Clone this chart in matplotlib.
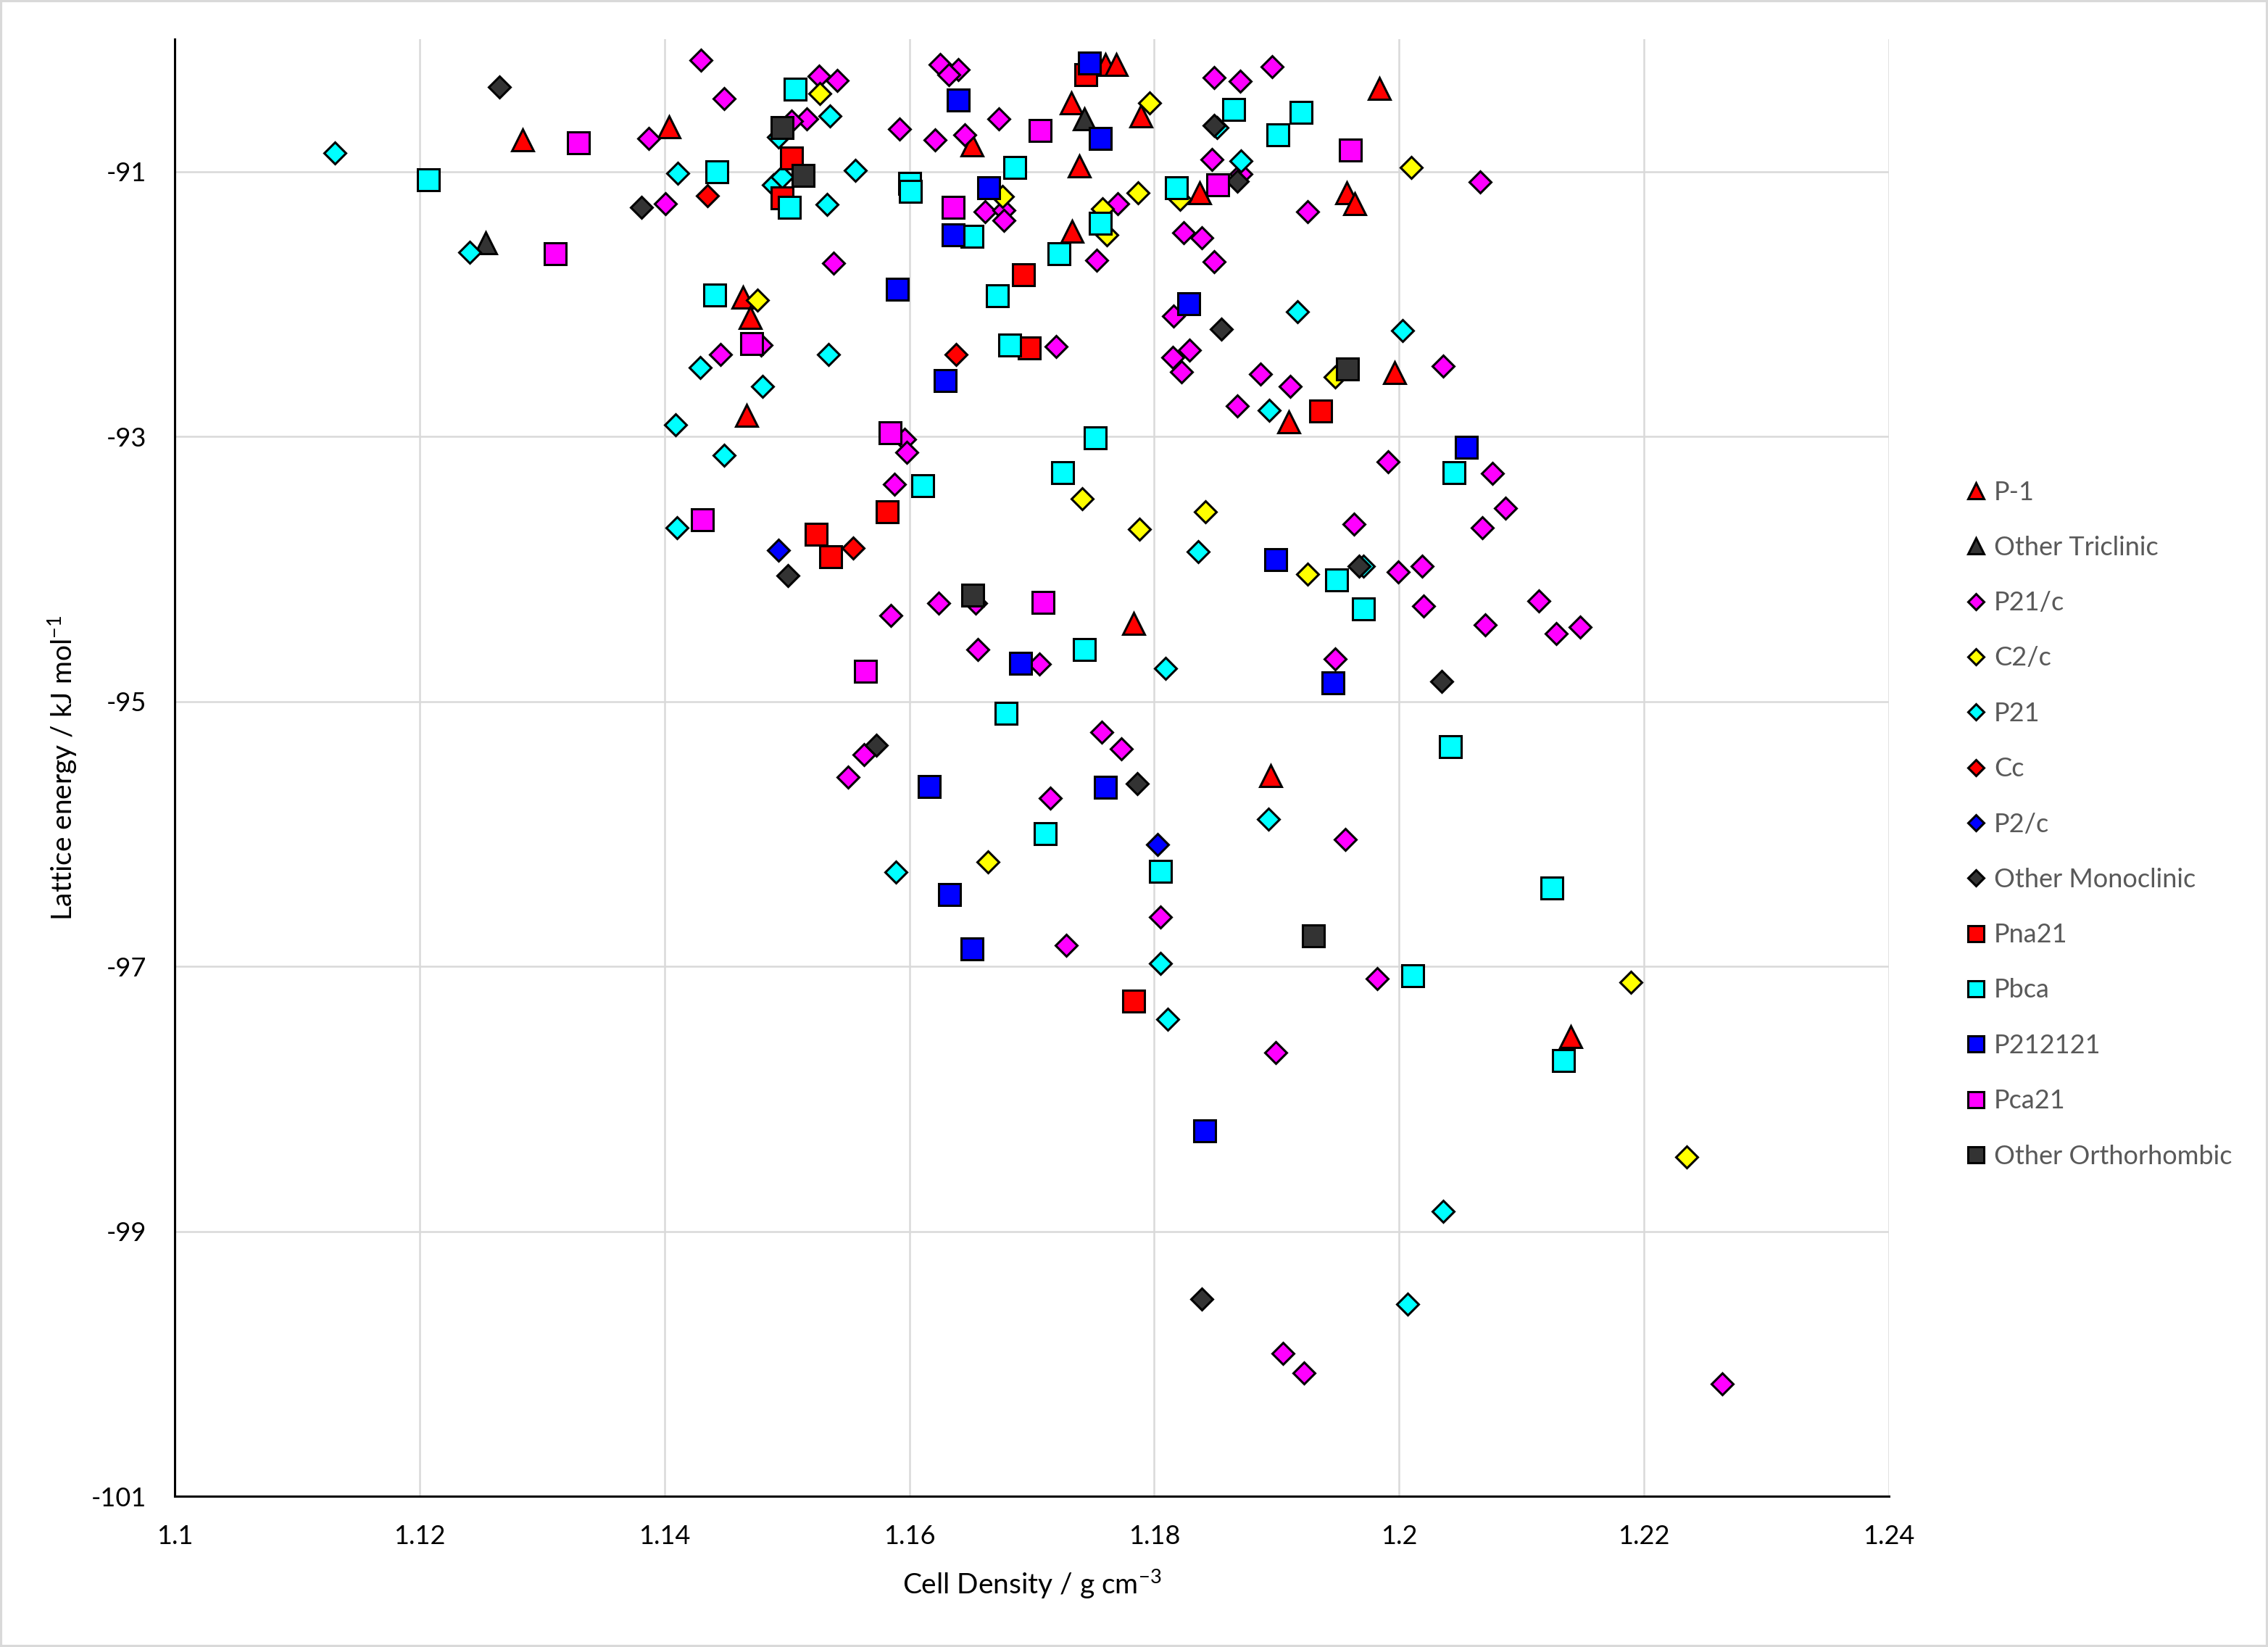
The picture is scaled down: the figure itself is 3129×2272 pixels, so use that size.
import matplotlib
matplotlib.use("Agg")
import matplotlib.pyplot as plt
from matplotlib.patches import Rectangle
from matplotlib.ticker import FuncFormatter

plt.rcParams['font.family'] = ['Lato', 'DejaVu Sans']
plt.rcParams['axes.unicode_minus'] = False
plt.rcParams['mathtext.fontset'] = 'custom'
plt.rcParams['mathtext.rm'] = 'Lato'
plt.rcParams['mathtext.it'] = 'Lato:italic'
plt.rcParams['mathtext.bf'] = 'Lato:bold'

# ---------------- data (cell density g cm-3, lattice energy kJ/mol) ----------------
p1_x = [1.1284, 1.1404, 1.1464, 1.1470, 1.1467, 1.1651, 1.1760, 1.1769, 1.1732, 1.1789,
        1.1739, 1.1733, 1.1837, 1.1910, 1.1984, 1.1957, 1.1964, 1.1996, 1.1783, 1.1895, 1.2140]
p1_y = [-90.76, -90.66, -91.95, -92.10, -92.84, -90.80, -90.19, -90.19, -90.48, -90.58,
        -90.96, -91.45, -91.16, -92.89, -90.37, -91.16, -91.24, -92.52, -94.41, -95.56, -97.53]

otri_x = [1.1254, 1.1743]
otri_y = [-91.54, -90.60]

p21c_x = [1.1430, 1.1449, 1.1387, 1.1401, 1.1446, 1.1526, 1.1541, 1.1516, 1.1504,
          1.1592, 1.1625, 1.1640, 1.1632, 1.1621, 1.1645, 1.1673,
          1.1662, 1.1677, 1.1677, 1.1770, 1.1753, 1.1538, 1.1479, 1.1720,
          1.1596, 1.1598, 1.1588,
          1.1849, 1.1870, 1.1896, 1.1847, 1.1871, 1.1925,
          1.1824, 1.1839, 1.1849, 1.1816, 1.1815, 1.1829, 1.1822,
          1.1887, 1.1911, 1.1868,
          1.2066, 1.2036, 1.1991, 1.2076, 1.2087, 1.1963, 1.2068,
          1.1999, 1.2019, 1.2020, 1.2114, 1.2070, 1.2128, 1.2148, 1.1948,
          1.1956, 1.1982,
          1.1585, 1.1624, 1.1654, 1.1656, 1.1706, 1.1757, 1.1773,
          1.1563, 1.1550, 1.1715, 1.1805, 1.1728,
          1.1899, 1.1905, 1.1922, 1.2264]
p21c_y = [-90.16, -90.45, -90.75, -91.24, -92.38, -90.28, -90.31, -90.60, -90.62,
          -90.68, -90.19, -90.23, -90.27, -90.76, -90.72, -90.60,
          -91.30, -91.29, -91.37, -91.24, -91.67, -91.69, -92.31, -92.32,
          -93.02, -93.12, -93.36,
          -90.29, -90.32, -90.21, -90.91, -91.02, -91.30,
          -91.46, -91.50, -91.68, -92.09, -92.40, -92.35, -92.51,
          -92.53, -92.62, -92.77,
          -91.08, -92.47, -93.19, -93.28, -93.54, -93.66, -93.69,
          -94.02, -93.98, -94.28, -94.24, -94.42, -94.49, -94.44, -94.68,
          -96.04, -97.09,
          -94.35, -94.26, -94.26, -94.61, -94.72, -95.23, -95.36,
          -95.40, -95.57, -95.73, -96.63, -96.84,
          -97.65, -99.92, -100.07, -100.15]

c2c_x = [1.1476, 1.1527, 1.1676, 1.1758, 1.1787, 1.1761, 1.1796, 1.1821, 1.2010, 1.1948,
         1.1741, 1.1842, 1.1788, 1.1925, 1.1664, 1.2189, 1.2235]
c2c_y = [-91.97, -90.41, -91.19, -91.28, -91.16, -91.48, -90.48, -91.21, -90.97, -92.55,
         -93.47, -93.57, -93.70, -94.04, -96.21, -97.12, -98.44]

p21_x = [1.1131, 1.1411, 1.1241, 1.1429, 1.1409, 1.1449, 1.1410,
         1.1535, 1.1493, 1.1489, 1.1496, 1.1556, 1.1533, 1.1534, 1.1480,
         1.1851, 1.1871, 1.1917, 1.1894,
         1.2003, 1.1971, 1.1836, 1.1809, 1.1893, 1.1589, 1.1805, 1.1811, 1.2036, 1.2007]
p21_y = [-90.86, -91.01, -91.61, -92.48, -92.91, -93.14, -93.69,
         -90.58, -90.74, -91.10, -91.04, -90.99, -91.25, -92.38, -92.62,
         -90.67, -90.92, -92.06, -92.80,
         -92.20, -93.98, -93.87, -94.75, -95.89, -96.29, -96.98, -97.40, -98.85, -99.55]

cc_x = [1.1435, 1.1638, 1.1554]
cc_y = [-91.18, -92.38, -93.84]

p2c_x = [1.1493, 1.1803]
p2c_y = [-93.86, -96.08]

omono_x = [1.1265, 1.1381, 1.1849, 1.1868, 1.1855, 1.1501, 1.1967, 1.2035, 1.1573, 1.1786, 1.1839]
omono_y = [-90.36, -91.27, -90.65, -91.07, -92.19, -94.05, -93.98, -94.85, -95.33, -95.62, -99.51]

pna21_x = [1.1504, 1.1496, 1.1744, 1.1693, 1.1698, 1.1582, 1.1936, 1.1524, 1.1536, 1.1783]
pna21_y = [-90.90, -91.20, -90.27, -91.78, -92.33, -93.57, -92.81, -93.74, -93.91, -97.26]

pbca_x = [1.1207, 1.1443, 1.1441, 1.1507, 1.1502, 1.1686, 1.1600, 1.1601, 1.1651, 1.1756,
          1.1722, 1.1672, 1.1682, 1.1611, 1.1752, 1.1725, 1.1865, 1.1920, 1.1901, 1.1818,
          1.2045, 1.1949, 1.1971, 1.2042, 1.2125, 1.2011, 1.1743, 1.1679, 1.1711, 1.1805, 1.2134]
pbca_y = [-91.06, -91.00, -91.93, -90.38, -91.27, -90.97, -91.09, -91.15, -91.49, -91.39,
          -91.62, -91.94, -92.31, -93.37, -93.01, -93.27, -90.53, -90.55, -90.72, -91.12,
          -93.27, -94.08, -94.30, -95.34, -96.41, -97.07, -94.61, -95.09, -96.00, -96.28, -97.71]

p212121_x = [1.1640, 1.1747, 1.1756, 1.1665, 1.1636, 1.1590, 1.1828, 1.1629, 1.2055,
             1.1899, 1.1946, 1.1691, 1.1616, 1.1760, 1.1633, 1.1651, 1.1841]
p212121_y = [-90.46, -90.18, -90.75, -91.12, -91.48, -91.89, -92.00, -92.58, -93.08,
             -93.93, -94.86, -94.71, -95.64, -95.65, -96.46, -96.87, -98.24]

pca21_x = [1.1330, 1.1311, 1.1431, 1.1471, 1.1707, 1.1636, 1.1584, 1.1852, 1.1960, 1.1709, 1.1564]
pca21_y = [-90.78, -91.62, -93.63, -92.30, -90.69, -91.27, -92.97, -91.10, -90.84, -94.25, -94.77]

oortho_x = [1.1496, 1.1513, 1.1958, 1.1652, 1.1930]
oortho_y = [-90.67, -91.03, -92.49, -94.20, -96.77]

series_names = ["P-1", "Other Triclinic", "P21/c", "C2/c", "P21", "Cc", "P2/c",
                "Other Monoclinic", "Pna21", "Pbca", "P212121", "Pca21", "Other Orthorhombic"]
series_x = [p1_x, otri_x, p21c_x, c2c_x, p21_x, cc_x, p2c_x, omono_x,
            pna21_x, pbca_x, p212121_x, pca21_x, oortho_x]
series_y = [p1_y, otri_y, p21c_y, c2c_y, p21_y, cc_y, p2c_y, omono_y,
            pna21_y, pbca_y, p212121_y, pca21_y, oortho_y]
series_marker = ["^", "^", "D", "D", "D", "D", "D", "D", "s", "s", "s", "s", "s"]
series_color = ["#FF0000", "#333333", "#FF00FF", "#FFFF00", "#00FFFF", "#FF0000", "#0000FF",
                "#333333", "#FF0000", "#00FFFF", "#0000FF", "#FF00FF", "#333333"]
marker_size = {"^": 10.6, "D": 7.5, "s": 10.6}

x_ticks = [1.10, 1.12, 1.14, 1.16, 1.18, 1.20, 1.22, 1.24]
y_ticks = [-101, -99, -97, -95, -93, -91]

# ---------------- figure ----------------
W, H, DPI = 3129, 2272, 200
fig = plt.figure(figsize=(W / DPI, H / DPI), dpi=DPI)
fig.patch.set_facecolor("white")
ax = fig.add_axes([241 / W, 1 - 2064 / H, (2606 - 241) / W, (2064 - 54) / H])

handles = []
for name, xs, ys, mk, col in zip(series_names, series_x, series_y, series_marker, series_color):
    h, = ax.plot(xs, ys, linestyle="none", marker=mk, ms=marker_size[mk],
                 markerfacecolor=col, markeredgecolor="black", markeredgewidth=1.1,
                 label=name, zorder=3)
    handles.append(h)

ax.set_xlim(1.1, 1.24)
ax.set_ylim(-101, -90)
ax.set_xticks(x_ticks)
ax.set_yticks(y_ticks)
ax.xaxis.set_major_formatter(FuncFormatter(lambda v, p: f"{round(v, 4):g}"))
ax.yaxis.set_major_formatter(FuncFormatter(lambda v, p: f"{int(round(v))}"))
ax.tick_params(axis="both", length=0, labelsize=13, colors="black", pad=14)

ax.grid(True, color="#D9D9D9", linewidth=0.9)
ax.set_axisbelow(True)
for side in ("top", "right"):
    ax.spines[side].set_visible(False)
for side in ("left", "bottom"):
    ax.spines[side].set_color("black")
    ax.spines[side].set_linewidth(1.1)

ax.set_xlabel("Cell Density / g cm$^{-3}$", fontsize=14, color="black")
ax.set_ylabel("Lattice energy / kJ mol$^{-1}$", fontsize=14, color="black")
ax.xaxis.set_label_coords(0.5, -0.049)
ax.yaxis.set_label_coords(-0.056, 0.5)

leg = fig.legend(handles=handles, loc="center left", bbox_to_anchor=(2693 / W, 1 - 1137 / H),
                 frameon=False, fontsize=13, labelspacing=1.20, handlelength=0.8,
                 handletextpad=0.3, markerscale=0.78, borderpad=0)
for t in leg.get_texts():
    t.set_color("#595959")

fig.add_artist(Rectangle((0.0004, 0.0006), 0.9992, 0.9988, transform=fig.transFigure,
                         fill=False, edgecolor="#D9D9D9", linewidth=1.5))

fig.savefig("out.png", dpi=DPI, facecolor="white")
